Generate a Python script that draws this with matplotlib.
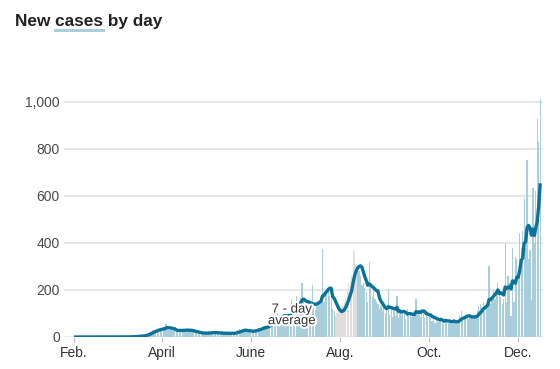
import matplotlib
matplotlib.use("Agg")
import matplotlib.pyplot as plt
import matplotlib.patheffects as pe
import numpy as np
import pandas as pd

# daily new cases, Feb 1 - Dec 16 2020
feb = [0, 0, 0, 0, 0, 0, 0, 0, 0, 0, 0, 0, 0, 0, 0, 0, 0, 0, 0, 0, 0,
       0, 0, 1, 0, 0, 0, 0, 1]
mar = [0, 0, 1, 0, 0, 1, 0, 1, 0, 2, 1, 2, 1, 3, 2, 4, 3, 6, 5, 8, 9,
       14, 18, 22, 25, 28, 30, 30, 33, 36, 34]
apr = [40, 35, 38, 55, 42, 30, 33, 28, 25, 30, 22, 26, 34, 28, 30, 27, 35,
       24, 28, 26, 32, 22, 20, 18, 16, 19, 14, 17, 15, 18]
may = [18, 15, 20, 22, 17, 19, 21, 16, 14, 19, 15, 17, 13, 18, 15, 17, 14,
       16, 19, 13, 15, 25, 28, 32, 26, 35, 30, 27, 22, 20, 25]
jun = [26, 22, 30, 34, 28, 38, 40, 36, 42, 45, 48, 40, 55, 58, 62, 75, 70,
       90, 100, 85, 92, 90, 82, 98, 85, 92, 100, 70, 160, 105]
jul = [150, 175, 140, 120, 165, 230, 150, 120, 140, 125, 110, 135, 220, 130,
       115, 145, 150, 140, 165, 375, 150, 185, 195, 210, 175, 160, 120, 110,
       90, 100, 110]
aug = [110, 120, 130, 150, 170, 200, 230, 240, 260, 370, 360, 300, 290, 280,
       260, 220, 230, 210, 190, 150, 320, 230, 170, 200, 160, 150, 140, 120,
       130, 110, 125]
sep = [100, 120, 200, 95, 130, 85, 110, 90, 175, 80, 105, 95, 110, 100,
       75, 120, 90, 105, 85, 100, 95, 160, 95, 110, 85, 120, 110, 80, 95, 85]
octo = [90, 80, 70, 95, 60, 75, 65, 70, 85, 60, 55, 80, 70, 60, 65, 70, 55,
        75, 60, 70, 65, 95, 110, 80, 90, 85, 95, 75, 90, 85, 80]
nov = [85, 95, 110, 130, 140, 125, 150, 110, 140, 150, 300, 140, 170, 200,
       160, 200, 230, 190, 170, 140, 160, 400, 150, 260, 230, 90, 380, 150,
       340, 330]
dec = [260, 441, 380, 450, 590, 380, 753, 330, 371, 157, 633, 400, 620,
       926, 831, 1011]

# days shown in grey
grey_start = "2020-07-29"
grey_end = "2020-08-12"

tick_dates = ["2020-02-01", "2020-04-01", "2020-06-01", "2020-08-01",
              "2020-10-01", "2020-12-01"]
tick_labels = ["Feb.", "April", "June", "Aug.", "Oct.", "Dec."]

cases = feb + mar + apr + may + jun + jul + aug + sep + octo + nov + dec
df = pd.DataFrame({"cases": cases},
                  index=pd.date_range("2020-02-01", periods=len(cases)))
df["avg"] = df["cases"].rolling(7, min_periods=1).mean()

bar_blue = "#a9cedb"
bar_grey = "#e2dcdc"
line_blue = "#0b7399"

plt.rcParams["font.family"] = ["Liberation Sans", "DejaVu Sans"]

fig = plt.figure(figsize=(5.6, 3.69), dpi=100)
ax = fig.add_axes([64 / 560, 32 / 369, 478.7 / 560, 240.9 / 369])

is_grey = (df.index >= grey_start) & (df.index <= grey_end)
colors = np.where(is_grey, bar_grey, bar_blue)
ax.bar(df.index, df["cases"], width=0.85, color=colors, zorder=2)
ax.plot(df.index, df["avg"], color=line_blue, lw=2.4,
        solid_capstyle="butt", solid_joinstyle="round", zorder=3)

ax.set_ylim(0, 1025)
start = pd.Timestamp("2020-02-01")
ax.set_xlim(start - pd.Timedelta(days=6.84), start + pd.Timedelta(days=320.7))

ax.set_yticks(range(0, 1001, 200))
ax.set_yticklabels([f"{v:,}" for v in range(0, 1001, 200)])
ax.yaxis.grid(True, color="#e0e0e0", lw=1.1, zorder=0)
ax.set_axisbelow(True)
ax.set_xticks(pd.to_datetime(tick_dates))
ax.set_xticklabels(tick_labels)

ax.tick_params(axis="y", length=0, pad=3, labelsize=10, labelcolor="#4a4a4a")
ax.tick_params(axis="x", length=3.5, width=0.8, color="#bdbdbd", pad=3,
               labelsize=10, labelcolor="#333333")
for s in ax.spines.values():
    s.set_visible(False)

ax.text(pd.Timestamp("2020-06-29"), 92, "7 - day\naverage", ha="center",
        va="center", fontsize=9.5, color="#333333", linespacing=0.95,
        zorder=5,
        path_effects=[pe.withStroke(linewidth=3, foreground="white")])

# title with the underline under "cases"
tx, ty = 15 / 560, 1 - 25.7 / 369
title = fig.text(tx, ty, "New cases by day", fontsize=12.4, weight="bold",
                 color="#222222", va="baseline")
r = fig.canvas.get_renderer()
w_full = fig.text(0, 0, "New cases", fontsize=12.4, weight="bold", alpha=0)
w_word = fig.text(0, 0, "cases", fontsize=12.4, weight="bold", alpha=0)
e_full = w_full.get_window_extent(r).width / fig.bbox.width
e_word = w_word.get_window_extent(r).width / fig.bbox.width
x1 = tx + e_full
x0 = x1 - e_word
ly = 1 - 30.3 / 369
fig.add_artist(plt.Line2D([x0, x1], [ly, ly], color="#a9cfda", lw=2.2,
                          transform=fig.transFigure))

fig.savefig("out.png", dpi=100)
